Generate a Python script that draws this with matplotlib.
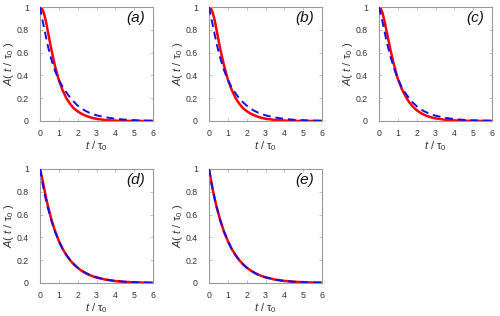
import matplotlib
matplotlib.use("Agg")
import matplotlib.pyplot as plt

plt.rcParams['font.family'] = ['Liberation Sans', 'DejaVu Sans']
plt.rcParams['mathtext.fontset'] = 'custom'
plt.rcParams['mathtext.rm'] = 'Liberation Sans'
plt.rcParams['mathtext.it'] = 'Liberation Sans:italic'

t = [0, 0.1, 0.2, 0.3, 0.4, 0.6, 0.8, 1.0, 1.2, 1.4, 1.6, 1.8, 2.0, 2.2, 2.4, 2.6, 2.8, 3.0,
     3.5, 4.0, 4.5, 5.0, 5.5, 6.0]

red_a = [1.0, 0.988, 0.95, 0.885, 0.80, 0.63, 0.48, 0.36, 0.27, 0.20, 0.15, 0.11, 0.085, 0.064,
         0.048, 0.036, 0.026, 0.019, 0.008, 0.003, 0.001, 0.0005, 0.0002, 0.0001]
blue_a = [1.0, 0.91, 0.83, 0.75, 0.67, 0.54, 0.44, 0.36, 0.30, 0.25, 0.205, 0.168, 0.135, 0.11,
          0.09, 0.074, 0.061, 0.05, 0.032, 0.02, 0.012, 0.007, 0.004, 0.002]

red_b = [1.0, 0.988, 0.95, 0.885, 0.80, 0.63, 0.485, 0.365, 0.275, 0.205, 0.153, 0.113, 0.087,
         0.066, 0.05, 0.037, 0.027, 0.02, 0.009, 0.0035, 0.0012, 0.0005, 0.0002, 0.0001]
blue_b = [1.0, 0.915, 0.84, 0.76, 0.68, 0.55, 0.445, 0.36, 0.295, 0.245, 0.2, 0.165, 0.135, 0.11,
          0.09, 0.074, 0.061, 0.05, 0.031, 0.019, 0.011, 0.007, 0.004, 0.002]

red_c = [1.0, 0.985, 0.94, 0.87, 0.79, 0.63, 0.49, 0.37, 0.285, 0.22, 0.165, 0.125, 0.095, 0.072,
         0.054, 0.041, 0.031, 0.023, 0.011, 0.005, 0.002, 0.001, 0.0005, 0.0002]
blue_c = [1.0, 0.93, 0.86, 0.78, 0.70, 0.57, 0.46, 0.37, 0.30, 0.245, 0.20, 0.16, 0.13, 0.105,
          0.085, 0.07, 0.057, 0.047, 0.028, 0.017, 0.01, 0.006, 0.004, 0.002]

red_d = [1.0, 0.93, 0.85, 0.765, 0.69, 0.56, 0.455, 0.37, 0.30, 0.245, 0.20, 0.163, 0.133, 0.108,
         0.088, 0.072, 0.059, 0.048, 0.029, 0.017, 0.01, 0.006, 0.0035, 0.002]
blue_d = [1.0, 0.905, 0.82, 0.74, 0.67, 0.55, 0.45, 0.368, 0.30, 0.247, 0.202, 0.165, 0.135,
          0.111, 0.091, 0.074, 0.061, 0.05, 0.03, 0.018, 0.011, 0.0067, 0.0041, 0.0025]

red_e = [1.0, 0.905, 0.819, 0.741, 0.670, 0.549, 0.449, 0.368, 0.301, 0.247, 0.202, 0.165, 0.135,
         0.111, 0.091, 0.074, 0.061, 0.050, 0.030, 0.018, 0.011, 0.0067, 0.0041, 0.0025]
blue_e = [1.0, 0.905, 0.819, 0.741, 0.670, 0.549, 0.449, 0.368, 0.301, 0.247, 0.202, 0.165, 0.135,
          0.111, 0.091, 0.074, 0.061, 0.050, 0.030, 0.018, 0.011, 0.0067, 0.0041, 0.0025]

panels = ['(a)', '(b)', '(c)', '(d)', '(e)']
reds = [red_a, red_b, red_c, red_d, red_e]
blues = [blue_a, blue_b, blue_c, blue_d, blue_e]

xticks = [0, 1, 2, 3, 4, 5, 6]
yticks = [0, 0.2, 0.4, 0.6, 0.8, 1]
ytick_labels = ['0', '0.2', '0.4', '0.6', '0.8', '1']

fig = plt.figure(figsize=(5.0, 3.16), dpi=100)

W, H = 500.0, 316.0
boxes = [(40, 7, 153, 121), (209, 7, 322, 121), (379, 7, 492, 121),
         (40, 169, 153, 283), (209, 169, 322, 283)]

for (x0, y0, x1, y1), lab, r, b in zip(boxes, panels, reds, blues):
    ax = fig.add_axes([x0 / W, 1 - y1 / H, (x1 - x0) / W, (y1 - y0) / H])
    ax.plot(t, r, color='#ff0000', lw=1.8, solid_capstyle='butt', zorder=2)
    ax.plot(t, b, color='#1010f0', lw=1.4, dashes=(4, 2.5), zorder=3)
    ax.set_xlim(0, 6)
    ax.set_ylim(0, 1)
    ax.set_xticks(xticks)
    ax.set_yticks(yticks)
    ax.set_yticklabels(ytick_labels)
    ax.tick_params(direction='in', length=2.5, width=0.5, colors='#aaaaaa',
                   labelcolor='#333333', labelsize=6.3, top=True, right=True)
    ax.tick_params(axis='y', pad=8)
    ax.tick_params(axis='x', pad=5.5)
    for s in ax.spines.values():
        s.set_color('#999999')
        s.set_linewidth(0.8)
    ax.set_xlabel(r'$\mathit{t}\ /\ \mathrm{\tau}_{\mathit{0}}$', fontsize=8,
                  color='#333333', va='center')
    ax.xaxis.set_label_coords(0.5, -0.22)
    ax.set_ylabel(r'$\mathit{A}(\ \mathit{t}\ /\ \mathrm{\tau}_{\mathit{0}}\ )$', fontsize=8,
                  color='#333333', va='center')
    ax.yaxis.set_label_coords(-0.27, 0.5)
    ax.text(0.93, 0.9, lab, transform=ax.transAxes, ha='right', va='center',
            fontsize=11, style='italic', color='#111111')

fig.savefig('out.png', dpi=100)
